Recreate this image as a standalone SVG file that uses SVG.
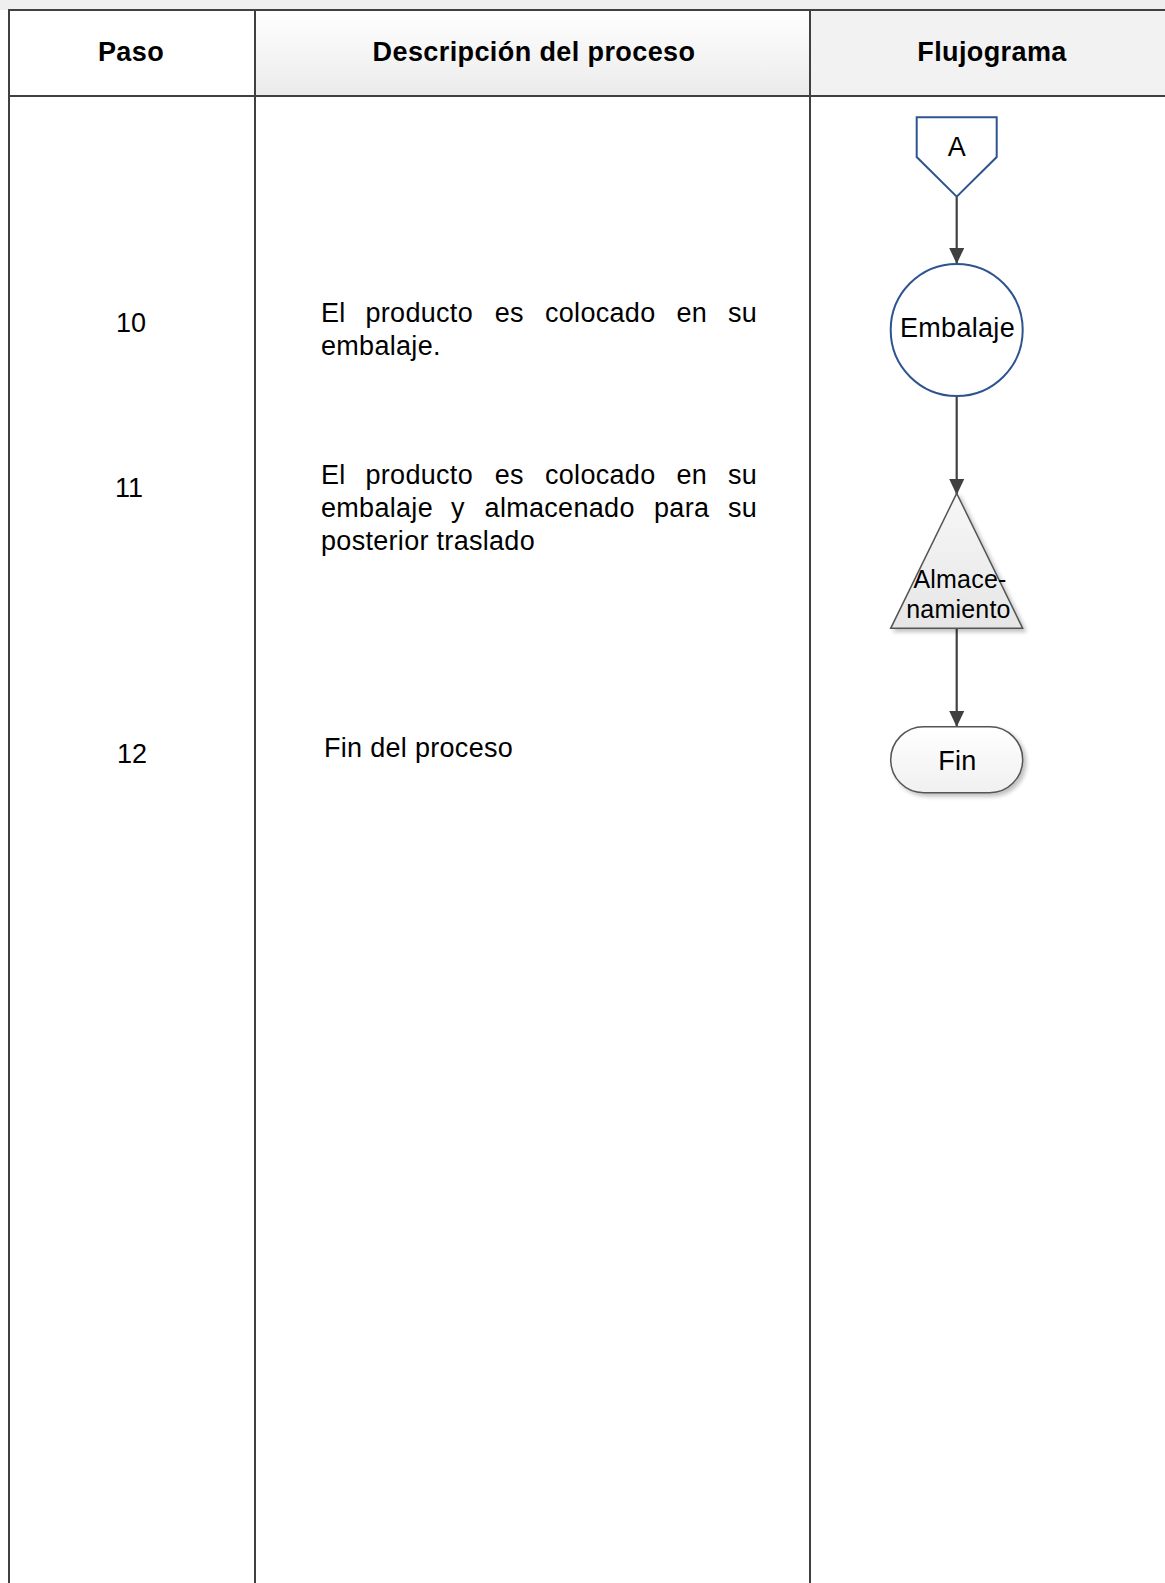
<svg xmlns="http://www.w3.org/2000/svg" width="1165" height="1583" viewBox="0 0 1165 1583">
  <style>
    .grid { stroke: #404040; stroke-width: 2; fill: none; }
    .hdr { font-family: "Liberation Sans", Arial, sans-serif; font-weight: bold; font-size: 27px; letter-spacing: 0.4px; fill: #000; text-anchor: middle; }
    .txt { font-family: "Liberation Sans", Arial, sans-serif; font-size: 27px; letter-spacing: 0.3px; fill: #000; }
    .num { font-family: "Liberation Sans", Arial, sans-serif; font-size: 27px; fill: #000; text-anchor: middle; }
    .lbl { font-family: "Liberation Sans", Arial, sans-serif; font-size: 27px; letter-spacing: 0.3px; fill: #000; text-anchor: middle; }
    .lbls { font-family: "Liberation Sans", Arial, sans-serif; font-size: 25px; letter-spacing: 0.2px; fill: #000; text-anchor: middle; }
    .blue { fill: #ffffff; stroke: #2e5490; stroke-width: 2; }
    .conn { stroke: #404040; stroke-width: 2.2; fill: none; marker-end: url(#arrow); }
  </style>
  <defs>
    <marker id="arrow" markerUnits="userSpaceOnUse" markerWidth="18" markerHeight="16" refX="15" refY="7.5" orient="auto">
      <path d="M0,0 L16,7.5 L0,15 Z" fill="#404040"/>
    </marker>
    <linearGradient id="hdrGrad" x1="0" y1="0" x2="0" y2="1">
      <stop offset="0" stop-color="#ffffff"/>
      <stop offset="1" stop-color="#ebebeb"/>
    </linearGradient>
    <linearGradient id="grayGrad" x1="0" y1="0" x2="0" y2="1">
      <stop offset="0" stop-color="#f7f7f7"/>
      <stop offset="1" stop-color="#e6e6e6"/>
    </linearGradient>
    <linearGradient id="termGrad" x1="0" y1="0" x2="0" y2="1">
      <stop offset="0" stop-color="#ffffff"/>
      <stop offset="1" stop-color="#f0f0f0"/>
    </linearGradient>
    <filter id="shadow" x="-20%" y="-20%" width="150%" height="150%">
      <feGaussianBlur in="SourceAlpha" stdDeviation="2"/>
      <feOffset dx="3" dy="3" result="b"/>
      <feComponentTransfer><feFuncA type="linear" slope="0.25"/></feComponentTransfer>
      <feMerge><feMergeNode/><feMergeNode in="SourceGraphic"/></feMerge>
    </filter>
  </defs>

  <rect x="0" y="0" width="1165" height="1583" fill="#ffffff"/>
  <g id="table">
    <rect x="0" y="0" width="1165" height="10" fill="#efefef"/>
    <rect x="9" y="10" width="246" height="86" fill="#ffffff"/>
    <rect x="255" y="10" width="555" height="86" fill="url(#hdrGrad)"/>
    <rect x="810" y="10" width="355" height="86" fill="#f2f2f2"/>
    <line class="grid" x1="8" y1="10" x2="1165" y2="10"/>
    <line class="grid" x1="8" y1="96" x2="1165" y2="96"/>
    <line class="grid" x1="9" y1="10" x2="9" y2="1583"/>
    <line class="grid" x1="255" y1="10" x2="255" y2="1583"/>
    <line class="grid" x1="810" y1="10" x2="810" y2="1583"/>
    <text class="hdr" x="131" y="61">Paso</text>
    <text class="hdr" x="534" y="61">Descripción del proceso</text>
    <text class="hdr" x="992" y="61">Flujograma</text>
  </g>

  <g id="steps">
    <text class="num" x="131" y="332">10</text>
    <text class="num" x="129" y="497">11</text>
    <text class="num" x="132" y="763">12</text>
  </g>

  <g id="descriptions">
    <text class="txt" y="322"><tspan x="321">El</tspan><tspan x="365.5">producto</tspan><tspan x="494.7">es</tspan><tspan x="545">colocado</tspan><tspan x="676.4">en</tspan><tspan x="728">su</tspan></text>
    <text class="txt" x="321" y="355">embalaje.</text>
    <text class="txt" y="484"><tspan x="321">El</tspan><tspan x="365.5">producto</tspan><tspan x="494.7">es</tspan><tspan x="545">colocado</tspan><tspan x="676.4">en</tspan><tspan x="728">su</tspan></text>
    <text class="txt" y="517"><tspan x="321">embalaje</tspan><tspan x="451">y</tspan><tspan x="484.6">almacenado</tspan><tspan x="654">para</tspan><tspan x="728">su</tspan></text>
    <text class="txt" x="321" y="550">posterior traslado</text>
    <text class="txt" x="324" y="757">Fin del proceso</text>
  </g>

  <g id="connectors">
    <line class="conn" x1="956.7" y1="197" x2="956.7" y2="263"/>
    <line class="conn" x1="956.7" y1="396" x2="956.7" y2="494"/>
    <line class="conn" x1="956.7" y1="629" x2="956.7" y2="726"/>
  </g>

  <g id="node-A">
    <path class="blue" d="M916.7,117.3 L996.7,117.3 L996.7,157 L956.7,196.7 L916.7,157 Z"/>
    <text class="lbl" x="957" y="156">A</text>
  </g>

  <g id="node-embalaje">
    <circle class="blue" cx="956.7" cy="330" r="66"/>
    <text class="lbl" x="957.5" y="337">Embalaje</text>
  </g>

  <g id="node-almacenamiento">
    <path d="M956.7,493.3 L1022.7,628.3 L890.7,628.3 Z" fill="url(#grayGrad)" stroke="#555555" stroke-width="1.5" filter="url(#shadow)"/>
    <text class="lbls" x="960" y="588">Almace-</text>
    <text class="lbls" x="958.5" y="618">namiento</text>
  </g>

  <g id="node-fin">
    <rect x="890.7" y="726.7" width="132" height="66" rx="33" ry="33" fill="url(#termGrad)" stroke="#555555" stroke-width="1.5" filter="url(#shadow)"/>
    <text class="lbl" x="957.5" y="770">Fin</text>
  </g>
</svg>
